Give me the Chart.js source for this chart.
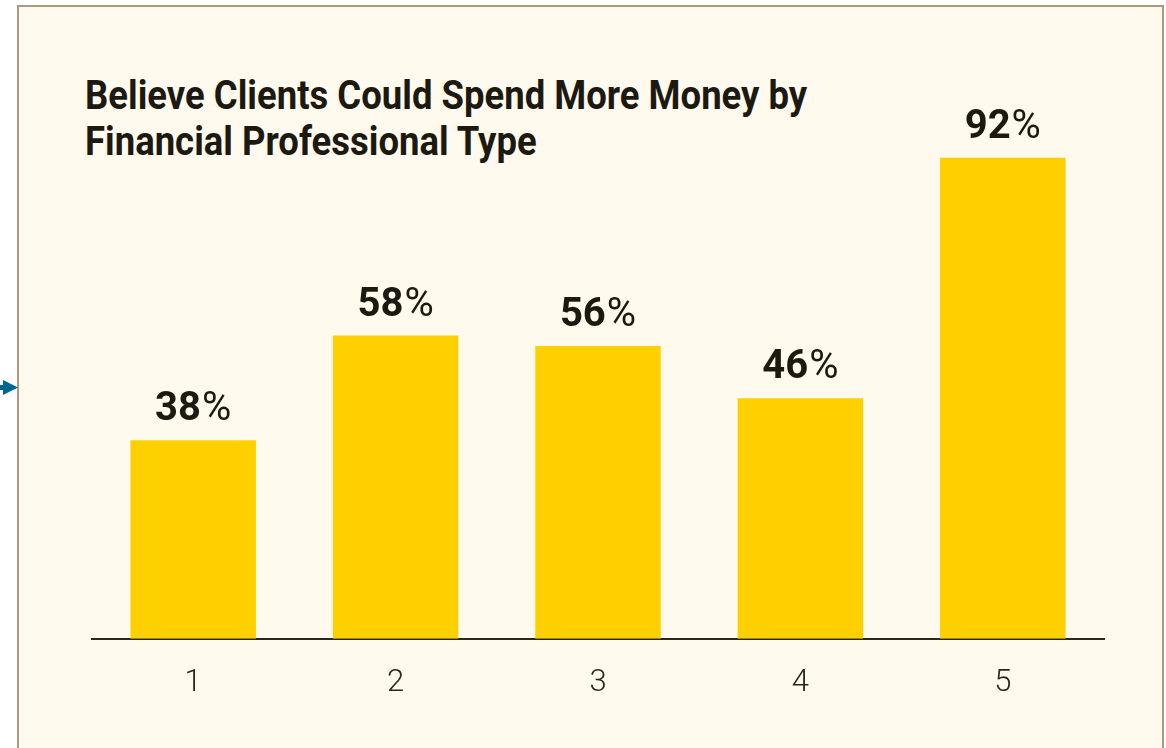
<!DOCTYPE html>
<html>
<head>
<meta charset="utf-8">
<script src="https://cdn.jsdelivr.net/npm/chart.js@4/dist/chart.umd.min.js"></script>
<style>
  html, body { margin: 0; padding: 0; background: #ffffff; width: 1166px; height: 748px; overflow: hidden; }
  .panel {
    position: absolute; left: 17px; top: 5px; width: 1143px; height: 800px;
    background: #FFF9EE; border: 2px solid #A99A80; border-bottom: none;
  }
  .pointer { position: absolute; left: 0; top: 380px; width: 18px; height: 15px; }
  .title {
    position: absolute; left: 85px; top: 72px; margin: 0; white-space: nowrap;
    font-family: Roboto, "Noto Sans", sans-serif;
    font-weight: bold; font-size: 41px; line-height: 46px; color: #1C1A10;
    transform: scaleX(0.89); transform-origin: 0 0;
  }
  #wrap { position: absolute; left: 0; top: 0; width: 1166px; height: 748px; }
</style>
</head>
<body>
<div class="panel"></div>
<svg class="pointer" viewBox="0 0 18 15"><rect x="0" y="5" width="5" height="5" fill="#00668F"/><polygon points="3,0 18,7.5 3,15" fill="#00668F"/></svg>
<h1 class="title">Believe Clients Could Spend More Money by<br>Financial Professional Type</h1>
<div id="wrap"><canvas id="chart" width="1166" height="748"></canvas></div>
<script>
// Share of professionals who believe clients could spend more, by professional type
const categories = ["1", "2", "3", "4", "5"];
const shareValues = [38, 58, 56, 46, 92];

const labelFont = 'Roboto, "Noto Sans", sans-serif';

// Draws "NN%" above each bar: bold number, regular percent sign
const valueLabels = {
  id: 'valueLabels',
  afterDatasetsDraw(chart) {
    const ctx = chart.ctx;
    const meta = chart.getDatasetMeta(0);
    const data = chart.data.datasets[0].data;
    ctx.save();
    ctx.fillStyle = '#1C1A10';
    ctx.textBaseline = 'alphabetic';
    ctx.textAlign = 'left';
    meta.data.forEach((bar, i) => {
      const num = String(data[i]);
      ctx.font = 'bold 40px ' + labelFont;
      const wNum = ctx.measureText(num).width;
      ctx.font = '40px ' + labelFont;
      const wPct = ctx.measureText('%').width;
      const x0 = bar.x - (wNum + wPct + 1) / 2;
      const y = bar.y - 20;
      ctx.font = 'bold 40px ' + labelFont;
      ctx.fillText(num, x0, y);
      ctx.font = '40px ' + labelFont;
      ctx.fillText('%', x0 + wNum + 1, y);
    });
    ctx.restore();
  }
};

new Chart(document.getElementById('chart'), {
  type: 'bar',
  data: {
    labels: categories,
    datasets: [{
      data: shareValues,
      backgroundColor: '#FFD000',
      borderWidth: 0,
      barPercentage: 0.62,
      categoryPercentage: 1.0
    }]
  },
  options: {
    responsive: false,
    animation: false,
    layout: { padding: { left: 92, right: 62, top: 116, bottom: 20 } },
    plugins: { legend: { display: false }, tooltip: { enabled: false }, title: { display: false } },
    scales: {
      x: {
        grid: { display: false, drawTicks: false },
        border: { display: true, color: '#2A281E', width: 2 },
        ticks: { color: '#2A281E', padding: 26, font: { family: labelFont, size: 31, weight: 300 } }
      },
      y: {
        display: false,
        min: 0, max: 100
      }
    }
  },
  plugins: [valueLabels]
});
</script>
</body>
</html>
